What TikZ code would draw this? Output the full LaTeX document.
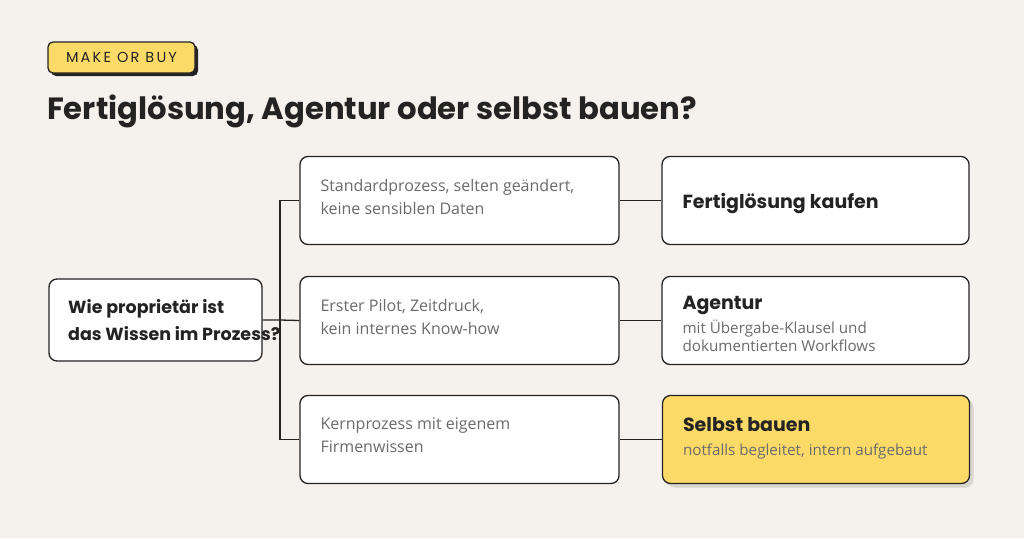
\documentclass[tikz,border=0pt]{standalone}
\usepackage{fontspec}
\setmainfont{Open Sans}
\newfontfamily\headfont{Poppins}
\usetikzlibrary{calc,positioning,shadows}

\definecolor{paper}{HTML}{F5F2ED}
\definecolor{ink}{HTML}{232323}
\definecolor{muted}{HTML}{6B6B6B}
\definecolor{sun}{HTML}{FCDA68}
\definecolor{shade}{HTML}{D9D6D0}

\tikzset{
  card/.style={draw=ink, line width=1.3pt, rounded corners=8pt, fill=white, inner sep=0pt, minimum height=88pt},
  midcard/.style={card, minimum width=319pt},
  rescard/.style={card, minimum width=307pt},
  link/.style={draw=ink, line width=1.3pt},
  note/.style={anchor=base west, inner sep=0pt, text=muted, font=\fontsize{16}{18}\selectfont},
  subnote/.style={anchor=base west, inner sep=0pt, text=muted, font=\fontsize{15.2}{17}\selectfont},
  head/.style={anchor=base west, inner sep=0pt, text=ink, font=\headfont\bfseries\fontsize{19}{24}\selectfont},
}

\begin{document}
\begin{tikzpicture}[x=1pt, y=-1pt]
  \fill[paper] (0,0) rectangle (1024,538);
  \useasboundingbox (0,0) rectangle (1024,538);

  % badge and title
  \node[draw=ink, line width=1.3pt, fill=sun, rounded corners=5pt, minimum width=147pt, minimum height=31pt,
        drop shadow={shadow xshift=3pt, shadow yshift=-3pt, fill=ink, opacity=1},
        font=\headfont\fontsize{14.5}{16}\selectfont\addfontfeature{LetterSpace=15}, text=ink] (tag) at (121.5,57.5) {MAKE OR BUY};
  \node[anchor=base west, inner sep=0pt, text=ink, font=\headfont\bfseries\fontsize{30.7}{34}\selectfont] (title) at (47,119)
    {Fertiglösung, Agentur oder selbst bauen?};

  % question
  \node[card, minimum width=213pt, minimum height=82pt] (ask) at (155.5,320) {};
  \node[anchor=base west, inner sep=0pt, text=ink, font=\headfont\bfseries\fontsize{17.5}{22}\selectfont] (ask1) at (68,313) {Wie proprietär ist};
  \node[anchor=base west, inner sep=0pt, text=ink, font=\headfont\bfseries\fontsize{17.5}{22}\selectfont] (ask2) at (68,340) {das Wissen im Prozess?};

  % conditions
  \node[midcard] (std) at (459.5,200.5) {};
  \node[midcard] (pilot) at (459.5,320.5) {};
  \node[midcard] (core) at (459.5,439.5) {};
  \node[note] at ($(std.north west)+(21,36)$) {Standardprozess, selten geändert,};
  \node[note] at ($(std.north west)+(21,59)$) {keine sensiblen Daten};
  \node[note] at ($(pilot.north west)+(21,36)$) {Erster Pilot, Zeitdruck,};
  \node[note] at ($(pilot.north west)+(21,59)$) {kein internes Know-how};
  \node[note] at ($(core.north west)+(21,35)$) {Kernprozess mit eigenem};
  \node[note] at ($(core.north west)+(21,58)$) {Firmenwissen};

  % results
  \node[rescard] (buy) at (815.5,200.5) {};
  \node[rescard] (agency) at (815.5,320.5) {};
  \node[rescard, fill=sun, drop shadow={shadow xshift=4pt, shadow yshift=-4pt, fill=shade, opacity=1}] (self) at (816,439.5) {};
  \node[head] at ($(buy.north west)+(21,53)$) {Fertiglösung kaufen};
  \node[head] at ($(agency.north west)+(21,34)$) {Agentur};
  \node[subnote] at ($(agency.north west)+(21,58)$) {mit Übergabe-Klausel und};
  \node[subnote] at ($(agency.north west)+(21,76)$) {dokumentierten Workflows};
  \node[head] at ($(self.north west)+(21,37)$) {Selbst bauen};
  \node[subnote] at ($(self.north west)+(21,61)$) {notfalls begleitet, intern aufgebaut};

  % connectors
  \coordinate (fork) at (280,320);
  \draw[link] (ask.east) -- (fork) -- (pilot.west);
  \draw[link] (std.west) -| (fork);
  \draw[link] (core.west) -| (fork);
  \draw[link] (std.east) -- (buy.west);
  \draw[link] (pilot.east) -- (agency.west);
  \draw[link] (core.east) -- (self.west);
\end{tikzpicture}
\end{document}
